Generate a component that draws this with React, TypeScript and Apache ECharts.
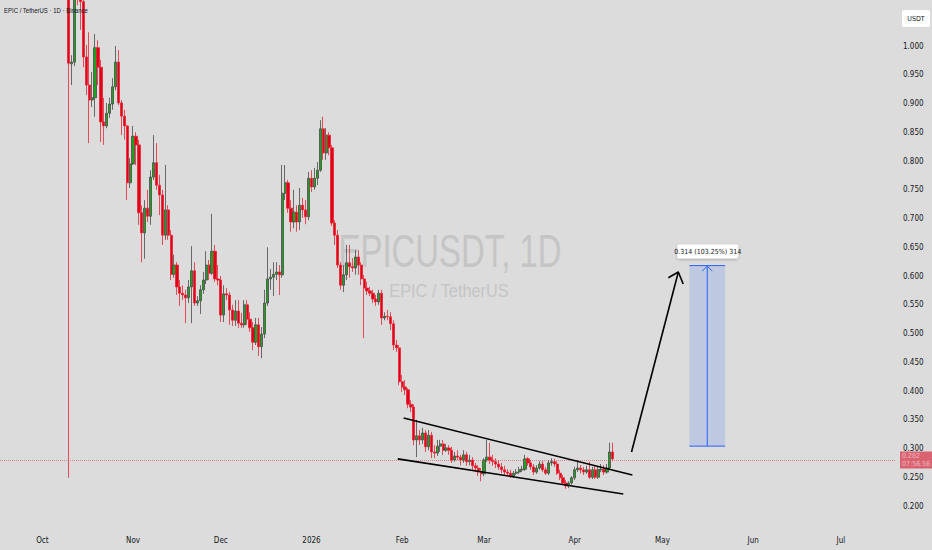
import React, { useEffect, useRef } from "react";
import * as echarts from "echarts";

// ---- axis / calendar ----
const startDate = "2025-09-17"; // first category on the time axis
const categoryCount = 306;
const firstCandleDate = "2025-10-10";
const monthNames = ["Jan", "Feb", "Mar", "Apr", "May", "Jun", "Jul", "Aug", "Sep", "Oct", "Nov", "Dec"];
const priceTicks = { min: 0.15, max: 1.08, step: 0.05 };

// ---- EPIC / USDT daily candles ----
const opens = [
  1.184, 0.969, 0.972, 1.097, 1.083, 1.077, 0.981, 0.932, 0.906, 0.910,
  0.997, 0.963, 0.868, 0.861, 0.883, 0.899, 0.929, 0.972, 0.901, 0.878,
  0.861, 0.762, 0.795, 0.843, 0.828, 0.710, 0.675, 0.718, 0.704, 0.772,
  0.797, 0.758, 0.741, 0.671, 0.715, 0.671, 0.603, 0.619, 0.581, 0.570,
  0.567, 0.562, 0.581, 0.609, 0.553, 0.557, 0.576, 0.593, 0.619, 0.605,
  0.643, 0.595, 0.593, 0.532, 0.569, 0.567, 0.541, 0.523, 0.539, 0.518,
  0.515, 0.550, 0.525, 0.510, 0.485, 0.515, 0.477, 0.499, 0.553, 0.595,
  0.598, 0.603, 0.607, 0.602, 0.744, 0.762, 0.718, 0.694, 0.711, 0.694,
  0.723, 0.715, 0.703, 0.770, 0.755, 0.770, 0.784, 0.856, 0.814, 0.845,
  0.823, 0.692, 0.671, 0.619, 0.584, 0.602, 0.623, 0.616, 0.614, 0.633,
  0.619, 0.595, 0.579, 0.574, 0.570, 0.560, 0.555, 0.570, 0.527, 0.530,
  0.529, 0.517, 0.480, 0.475, 0.416, 0.407, 0.402, 0.377, 0.372, 0.315,
  0.322, 0.315, 0.327, 0.303, 0.323, 0.294, 0.292, 0.304, 0.308, 0.297,
  0.301, 0.297, 0.280, 0.287, 0.285, 0.280, 0.289, 0.277, 0.280, 0.270,
  0.266, 0.259, 0.256, 0.280, 0.285, 0.280, 0.277, 0.273, 0.268, 0.263,
  0.259, 0.257, 0.252, 0.257, 0.259, 0.263, 0.264, 0.282, 0.275, 0.268,
  0.259, 0.266, 0.273, 0.263, 0.257, 0.275, 0.277, 0.273, 0.257, 0.249,
  0.240, 0.235, 0.240, 0.249, 0.263, 0.266, 0.263, 0.259, 0.263, 0.250,
  0.263, 0.250, 0.263, 0.264, 0.259, 0.266, 0.294,
];
const closes = [
  0.970, 0.972, 1.097, 1.083, 1.077, 0.981, 0.932, 0.906, 0.910, 0.997,
  0.963, 0.868, 0.861, 0.883, 0.899, 0.929, 0.972, 0.901, 0.878, 0.861,
  0.762, 0.795, 0.843, 0.828, 0.710, 0.675, 0.718, 0.704, 0.772, 0.797,
  0.758, 0.741, 0.671, 0.715, 0.671, 0.603, 0.619, 0.581, 0.570, 0.567,
  0.562, 0.581, 0.609, 0.553, 0.557, 0.576, 0.593, 0.619, 0.605, 0.643,
  0.595, 0.593, 0.532, 0.569, 0.567, 0.541, 0.523, 0.539, 0.518, 0.515,
  0.550, 0.525, 0.510, 0.485, 0.515, 0.477, 0.499, 0.553, 0.595, 0.598,
  0.603, 0.607, 0.602, 0.744, 0.762, 0.718, 0.694, 0.711, 0.694, 0.723,
  0.715, 0.703, 0.770, 0.755, 0.770, 0.784, 0.856, 0.814, 0.845, 0.823,
  0.692, 0.671, 0.619, 0.584, 0.602, 0.623, 0.616, 0.614, 0.633, 0.619,
  0.595, 0.579, 0.574, 0.570, 0.560, 0.555, 0.570, 0.527, 0.530, 0.529,
  0.517, 0.480, 0.475, 0.416, 0.407, 0.402, 0.377, 0.372, 0.315, 0.322,
  0.315, 0.327, 0.303, 0.323, 0.294, 0.292, 0.304, 0.308, 0.297, 0.301,
  0.297, 0.280, 0.287, 0.285, 0.280, 0.289, 0.277, 0.280, 0.270, 0.266,
  0.259, 0.256, 0.280, 0.285, 0.280, 0.277, 0.273, 0.268, 0.263, 0.259,
  0.257, 0.252, 0.257, 0.259, 0.263, 0.264, 0.282, 0.275, 0.268, 0.259,
  0.266, 0.273, 0.263, 0.257, 0.275, 0.277, 0.273, 0.257, 0.249, 0.240,
  0.235, 0.240, 0.249, 0.263, 0.266, 0.263, 0.259, 0.263, 0.250, 0.263,
  0.250, 0.263, 0.264, 0.259, 0.266, 0.294, 0.282,
];
const lows = [
  0.249, 0.932, 0.965, 1.071, 1.028, 0.963, 0.915, 0.831, 0.894, 0.877,
  0.932, 0.833, 0.828, 0.857, 0.875, 0.889, 0.923, 0.897, 0.845, 0.837,
  0.732, 0.753, 0.793, 0.793, 0.689, 0.624, 0.630, 0.694, 0.689, 0.767,
  0.750, 0.706, 0.654, 0.663, 0.663, 0.593, 0.597, 0.567, 0.548, 0.558,
  0.518, 0.553, 0.518, 0.548, 0.548, 0.534, 0.569, 0.586, 0.593, 0.602,
  0.590, 0.584, 0.520, 0.520, 0.558, 0.515, 0.513, 0.513, 0.510, 0.510,
  0.510, 0.515, 0.503, 0.471, 0.480, 0.461, 0.457, 0.492, 0.548, 0.576,
  0.565, 0.593, 0.567, 0.597, 0.732, 0.710, 0.677, 0.683, 0.677, 0.680,
  0.701, 0.690, 0.697, 0.746, 0.750, 0.758, 0.781, 0.802, 0.802, 0.810,
  0.687, 0.654, 0.614, 0.576, 0.572, 0.593, 0.597, 0.607, 0.602, 0.602,
  0.584, 0.492, 0.567, 0.565, 0.553, 0.548, 0.550, 0.515, 0.523, 0.523,
  0.506, 0.471, 0.468, 0.410, 0.398, 0.393, 0.370, 0.363, 0.306, 0.285,
  0.306, 0.308, 0.294, 0.297, 0.283, 0.283, 0.287, 0.294, 0.289, 0.294,
  0.289, 0.275, 0.277, 0.280, 0.271, 0.275, 0.270, 0.271, 0.263, 0.259,
  0.252, 0.243, 0.252, 0.277, 0.273, 0.270, 0.266, 0.263, 0.257, 0.254,
  0.252, 0.249, 0.249, 0.254, 0.256, 0.259, 0.261, 0.270, 0.263, 0.254,
  0.256, 0.263, 0.259, 0.254, 0.254, 0.270, 0.268, 0.254, 0.245, 0.237,
  0.230, 0.231, 0.237, 0.245, 0.259, 0.257, 0.254, 0.256, 0.247, 0.247,
  0.247, 0.247, 0.259, 0.254, 0.256, 0.263, 0.278,
];
const highs = [
  1.202, 0.984, 1.132, 1.123, 1.106, 1.089, 1.002, 1.024, 0.955, 1.021,
  1.010, 0.976, 0.910, 0.901, 0.910, 0.944, 1.000, 0.993, 0.906, 0.889,
  0.863, 0.805, 0.861, 0.850, 0.837, 0.723, 0.732, 0.750, 0.784, 0.845,
  0.831, 0.776, 0.750, 0.793, 0.723, 0.680, 0.637, 0.624, 0.593, 0.584,
  0.576, 0.593, 0.652, 0.624, 0.565, 0.584, 0.607, 0.643, 0.628, 0.708,
  0.654, 0.619, 0.600, 0.584, 0.579, 0.572, 0.550, 0.558, 0.558, 0.536,
  0.558, 0.558, 0.537, 0.520, 0.527, 0.527, 0.511, 0.576, 0.650, 0.612,
  0.624, 0.624, 0.619, 0.793, 0.793, 0.767, 0.732, 0.750, 0.723, 0.753,
  0.736, 0.732, 0.781, 0.784, 0.788, 0.798, 0.871, 0.877, 0.857, 0.850,
  0.828, 0.697, 0.680, 0.624, 0.619, 0.654, 0.654, 0.631, 0.645, 0.645,
  0.624, 0.602, 0.590, 0.581, 0.576, 0.567, 0.576, 0.576, 0.537, 0.541,
  0.537, 0.523, 0.489, 0.480, 0.428, 0.419, 0.405, 0.384, 0.377, 0.350,
  0.332, 0.336, 0.332, 0.332, 0.329, 0.306, 0.315, 0.315, 0.315, 0.308,
  0.306, 0.303, 0.294, 0.297, 0.289, 0.297, 0.294, 0.289, 0.285, 0.275,
  0.271, 0.266, 0.283, 0.315, 0.310, 0.289, 0.283, 0.280, 0.275, 0.270,
  0.264, 0.263, 0.261, 0.264, 0.268, 0.270, 0.289, 0.285, 0.280, 0.273,
  0.271, 0.278, 0.278, 0.268, 0.280, 0.283, 0.282, 0.278, 0.263, 0.254,
  0.245, 0.243, 0.252, 0.268, 0.280, 0.271, 0.268, 0.270, 0.277, 0.268,
  0.270, 0.268, 0.273, 0.271, 0.273, 0.310, 0.310,
];

// ---- drawings (date, price) ----
const wedgeUpper: [string, number][] = [["2026-02-01T12:00Z", 0.353], ["2026-04-20T17:00Z", 0.254]];
const wedgeLower: [string, number][] = [["2026-01-30T12:00Z", 0.282], ["2026-04-17T14:00Z", 0.221]];
const arrowShaft: [string, number][] = [["2026-04-20T10:00Z", 0.294], ["2026-05-06T10:00Z", 0.607]];
const arrowHead: [string, number][] = [
  ["2026-05-03T00:00Z", 0.597],
  ["2026-05-06T10:00Z", 0.607],
  ["2026-05-08T02:00Z", 0.586],
];
const measureFrom = "2026-05-10T05:00Z";
const measureTo = "2026-05-22T10:00Z";
const measureLow = 0.30412;
const measureHigh = 0.61812;
const countdown = "07:56:56";

const NARROW = "'Liberation Sans Narrow', 'DejaVu Sans Condensed', sans-serif";
const SANS = "'Liberation Sans', Arial, sans-serif";
const TEXT = "#131722";

const dayIndex = (d: string) =>
  (Date.parse(d) - Date.parse(startDate + "T00:00Z")) / 86400000;

export default function App() {
  const ref = useRef<HTMLDivElement>(null);

  useEffect(() => {
    if (!ref.current) return;
    const chart = echarts.init(ref.current, undefined, { renderer: "svg" });

    const start = Date.parse(startDate + "T00:00Z");
    const categories = Array.from({ length: categoryCount }, (_, k) =>
      new Date(start + k * 86400000).toISOString().slice(0, 10)
    );
    const offset = Math.round(dayIndex(firstCandleDate + "T00:00Z"));
    const candleData = categories.map((_, k) => {
      const i = k - offset;
      return i >= 0 && i < opens.length ? [opens[i], closes[i], lows[i], highs[i]] : "-";
    });
    const toXY = (pts: [string, number][]) => pts.map(([d, p]) => [dayIndex(d), p]);
    const lastClose = closes[closes.length - 1];

    const drawLine = (name: string, pts: [string, number][]) => ({
      name,
      type: "line",
      xAxisIndex: 1,
      yAxisIndex: 0,
      data: toXY(pts),
      symbol: "none",
      silent: true,
      z: 20,
      lineStyle: { color: "#000000", width: 1.6 },
    });

    chart.setOption({
      animation: false,
      backgroundColor: "#dcdcdc",
      grid: { left: -1.5, right: 37, top: 0, bottom: 15.25 },
      xAxis: [
        {
          type: "category",
          data: categories,
          boundaryGap: true,
          axisLine: { show: false },
          axisTick: { show: false },
          splitLine: { show: false },
          axisLabel: {
            interval: (_: number, v: string) => v.slice(8) === "01",
            formatter: (v: string) => {
              const m = +v.slice(5, 7);
              return m === 1 ? v.slice(0, 4) : monthNames[m - 1];
            },
            margin: 2,
            fontSize: 8,
            fontFamily: NARROW,
            color: TEXT,
          },
        },
        { type: "value", min: -0.5, max: categoryCount - 0.5, show: false },
      ],
      yAxis: {
        type: "value",
        position: "right",
        min: priceTicks.min,
        max: priceTicks.max,
        interval: priceTicks.step,
        axisLine: { show: false },
        axisTick: { show: false },
        splitLine: { show: false },
        axisLabel: {
          showMinLabel: false,
          showMaxLabel: false,
          margin: 8,
          fontSize: 8,
          fontFamily: NARROW,
          color: TEXT,
          formatter: (v: number) => (v > 1.02 || v < 0.19 ? "" : v.toFixed(3)),
        },
      },
      graphic: [
        {
          type: "text",
          x: 450,
          y: 251,
          scaleX: 0.7,
          z: -1,
          silent: true,
          style: {
            text: "EPICUSDT, 1D",
            fontSize: 47,
            fontFamily: SANS,
            fill: "#c5c5c5",
            align: "center",
            verticalAlign: "middle",
          },
        },
        {
          type: "text",
          x: 449,
          y: 291,
          scaleX: 0.86,
          z: -1,
          silent: true,
          style: {
            text: "EPIC / TetherUS",
            fontSize: 19,
            fontFamily: SANS,
            fill: "#c5c5c5",
            align: "center",
            verticalAlign: "middle",
          },
        },
        {
          type: "text",
          x: 4,
          y: 10,
          scaleX: 0.75,
          z: 100,
          silent: true,
          style: {
            text: "EPIC / TetherUS · 1D · Binance",
            fontSize: 8,
            fontFamily: SANS,
            fill: TEXT,
            align: "left",
            verticalAlign: "middle",
          },
        },
        {
          type: "rect",
          z: 100,
          silent: true,
          shape: { x: 902, y: 10, width: 28, height: 17, r: 2 },
          style: { fill: "#ffffff" },
        },
        {
          type: "text",
          x: 916,
          y: 18.5,
          z: 101,
          silent: true,
          style: {
            text: "USDT",
            fontSize: 7,
            fontFamily: NARROW,
            fill: TEXT,
            align: "center",
            verticalAlign: "middle",
          },
        },
      ],
      series: [
        {
          name: "EPICUSDT",
          type: "candlestick",
          xAxisIndex: 0,
          yAxisIndex: 0,
          data: candleData,
          barWidth: 2.7,
          clip: true,
          itemStyle: {
            color: "#1ea21e",
            color0: "#e3001b",
            borderColor: "#4a4a4a",
            borderColor0: "#e42634",
            borderWidth: 0.8,
          },
          markLine: {
            silent: true,
            symbol: "none",
            data: [{ yAxis: lastClose }],
            lineStyle: { color: "#e04050", width: 1, type: [1, 1], opacity: 0.55 },
            label: {
              position: "end",
              distance: 5,
              formatter: () => `${lastClose.toFixed(3)}\n${countdown}`,
              backgroundColor: "#d9001a",
              color: "#ffffff",
              fontSize: 7,
              lineHeight: 8,
              fontFamily: NARROW,
              padding: [1, 2, 0, 2],
              align: "left",
            },
          },
        },
        drawLine("wedgeUpper", wedgeUpper),
        drawLine("wedgeLower", wedgeLower),
        drawLine("arrowShaft", arrowShaft),
        drawLine("arrowHead", arrowHead),
        {
          name: "priceRange",
          type: "custom",
          xAxisIndex: 1,
          yAxisIndex: 0,
          silent: true,
          z: 15,
          clip: false,
          data: [[dayIndex(measureFrom), dayIndex(measureTo), measureLow, measureHigh]],
          renderItem: (_: any, api: any) => {
            const lo = api.value(2) as number;
            const hi = api.value(3) as number;
            const tl = api.coord([api.value(0), hi]);
            const br = api.coord([api.value(1), lo]);
            const mx = (tl[0] + br[0]) / 2;
            const diff = hi - lo;
            const text = `${diff.toFixed(3)} (${((diff / lo) * 100).toFixed(2)}%) ${Math.round(diff * 1000)}`;
            const blue = "#2962ff";
            return {
              type: "group",
              children: [
                {
                  type: "rect",
                  shape: { x: tl[0], y: tl[1], width: br[0] - tl[0], height: br[1] - tl[1] },
                  style: { fill: "rgba(41,98,255,0.16)" },
                },
                { type: "line", shape: { x1: tl[0], y1: tl[1], x2: br[0], y2: tl[1] }, style: { stroke: blue, lineWidth: 1 } },
                { type: "line", shape: { x1: tl[0], y1: br[1], x2: br[0], y2: br[1] }, style: { stroke: blue, lineWidth: 1 } },
                { type: "line", shape: { x1: mx, y1: br[1], x2: mx, y2: tl[1] }, style: { stroke: blue, lineWidth: 1 } },
                {
                  type: "polyline",
                  shape: { points: [[mx - 5, tl[1] + 5.5], [mx, tl[1] + 0.5], [mx + 5, tl[1] + 5.5]] },
                  style: { stroke: blue, lineWidth: 1, fill: "none" },
                },
                {
                  type: "rect",
                  shape: { x: mx - 30, y: tl[1] - 21, width: 61, height: 14, r: 2 },
                  style: { fill: "#ffffff", shadowBlur: 3, shadowColor: "rgba(0,0,0,0.25)", shadowOffsetY: 1 },
                },
                {
                  type: "text",
                  x: mx + 0.5,
                  y: tl[1] - 14,
                  style: {
                    text,
                    fontSize: 7,
                    fontFamily: NARROW,
                    fill: TEXT,
                    align: "center",
                    verticalAlign: "middle",
                  },
                },
              ],
            };
          },
        },
      ],
    });

    return () => chart.dispose();
  }, []);

  return (
    <div
      ref={ref}
      style={{ position: "fixed", left: 0, top: 0, width: 932, height: 550, background: "#dcdcdc" }}
    />
  );
}
